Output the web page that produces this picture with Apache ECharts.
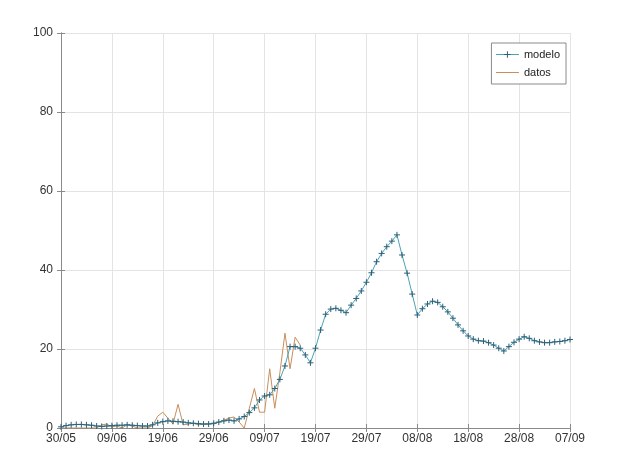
<!DOCTYPE html>
<html>
<head>
<meta charset="utf-8">
<script src="https://cdn.jsdelivr.net/npm/echarts@6/dist/echarts.min.js"></script>
<style>html,body{margin:0;padding:0;background:#fff}#c{width:640px;height:457px}</style>
</head>
<body>
<div id="c"></div>
<script>
// x tick labels (every 10 days starting 30/05)
var tickLabels = ['30/05','09/06','19/06','29/06','09/07','19/07','29/07','08/08','18/08','28/08','07/09'];
// modelo: one value per day from 30/05 (day 0) to 07/09 (day 100)
var modelo = [0.3,0.6,0.8,0.9,0.9,0.8,0.7,0.5,0.4,0.5,
  0.6,0.7,0.7,0.8,0.7,0.6,0.5,0.5,0.8,1.3,
  1.6,1.8,1.7,1.6,1.5,1.3,1.2,1.1,1.0,1.0,
  1.2,1.5,1.8,2.0,1.8,2.3,2.9,3.9,5.1,7.1,
  8.1,8.4,10.0,12.3,15.7,20.6,20.6,20.2,18.5,16.5,
  20.2,24.8,28.8,30.1,30.3,29.8,29.2,31.1,32.8,34.7,
  36.9,39.3,42.1,44.2,45.9,47.3,48.9,43.8,39.2,33.9,
  28.6,30.2,31.4,32.1,31.8,30.7,29.4,27.8,26.1,24.6,
  23.3,22.5,22.1,22.0,21.6,21.0,20.2,19.5,20.6,21.7,
  22.5,23.1,22.7,22.1,21.8,21.6,21.6,21.8,21.9,22.1,
  22.4];
// datos: one value per day from 30/05 (day 0) to 15/07 (day 47)
var datos = [0,0,0,0,0,0,0,0,0.8,1.0,
  0.3,0.5,0,0.8,0.5,0,0,0,0.6,3.0,
  4.0,2.5,1.0,6.0,0.8,1.0,1.2,0.8,1.0,1.2,
  1.0,1.5,2.0,2.5,2.8,1.5,0,5,10,4,
  4,15,5,14,24,15,23,21];

var modeloData = modelo.map(function(v,i){return [i,v];});
var datosData = datos.map(function(v,i){return [i,v];});

var plus = 'path://M0,5L10,5M5,0L5,10';
var font = "'Liberation Sans', Arial, sans-serif";
var axisCol = '#8a8a8a';
var teal = '#4aa3b2', mark = '#2d5f78', brown = '#c98e5a';

function xFmt(v){ var k = Math.round(v/10); return (Math.abs(v - k*10) < 1e-6 && tickLabels[k] !== undefined) ? tickLabels[k] : ''; }

var chart = echarts.init(document.getElementById('c'), null, {renderer:'canvas'});
chart.setOption({
  animation: false,
  backgroundColor: '#fff',
  grid: {left: 61, top: 33, right: 70, bottom: 29, containLabel: false},
  legend: {
    right: 74, top: 43, orient: 'vertical',
    backgroundColor: '#fff', borderColor: '#8a8a8a', borderWidth: 1,
    padding: [6, 6, 6, 4], itemGap: 7, itemWidth: 23, itemHeight: 8,
    textStyle: {fontFamily: font, fontSize: 11, color: '#222'},
    lineStyle: {width: 1},
    data: [
      {name: 'modelo', itemStyle: {color: mark, borderColor: mark, borderWidth: 1}},
      {name: 'datos', itemStyle: {opacity: 0}}
    ]
  },
  xAxis: [{
    type: 'value', min: 0, max: 100, interval: 10, position: 'bottom',
    axisLine: {show: true, lineStyle: {color: axisCol}},
    axisTick: {show: true, inside: true, length: 4, lineStyle: {color: axisCol}},
    splitLine: {show: true, lineStyle: {color: '#e4e4e4'}},
    axisLabel: {formatter: xFmt, fontFamily: font, fontSize: 12, color: '#333', margin: 5}
  }, {
    type: 'value', min: 0, max: 100, interval: 10, position: 'top',
    axisLine: {show: true, lineStyle: {color: axisCol}},
    axisTick: {show: true, inside: true, length: 4, lineStyle: {color: axisCol}},
    splitLine: {show: false}, axisLabel: {show: false}
  }],
  yAxis: [{
    type: 'value', min: 0, max: 100, interval: 20, position: 'left',
    axisLine: {show: true, lineStyle: {color: axisCol}},
    axisTick: {show: true, inside: true, length: 4, lineStyle: {color: axisCol}},
    splitLine: {show: true, lineStyle: {color: '#e4e4e4'}},
    axisLabel: {fontFamily: font, fontSize: 12, color: '#333', margin: 8}
  }, {
    type: 'value', min: 0, max: 100, interval: 20, position: 'right',
    axisLine: {show: true, lineStyle: {color: axisCol}},
    axisTick: {show: true, inside: true, length: 4, lineStyle: {color: axisCol}},
    splitLine: {show: false}, axisLabel: {show: false}
  }],
  series: [{
    name: 'datos', type: 'line', data: datosData, showSymbol: false, symbol: 'none',
    lineStyle: {color: brown, width: 1}, itemStyle: {color: brown}, z: 2
  }, {
    name: 'modelo', type: 'line', data: modeloData,
    symbol: plus, symbolSize: 6, showSymbol: true,
    lineStyle: {color: teal, width: 1},
    itemStyle: {color: mark, borderColor: mark, borderWidth: 1},
    z: 3
  }]
});
</script>
</body>
</html>
